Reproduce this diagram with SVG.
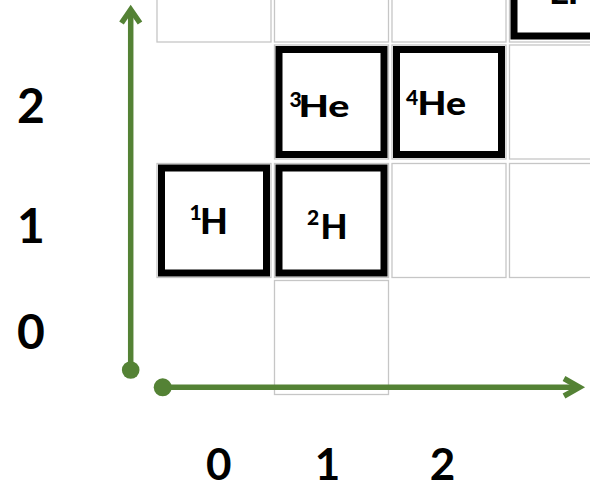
<svg xmlns="http://www.w3.org/2000/svg" width="590" height="490" viewBox="0 0 590 490">
<style>
.cell{fill:#fff;stroke:#c6c6c6;stroke-width:1.3}
.box{fill:#fff;stroke:#000;stroke-width:7}
.t{font-family:Lato,"Liberation Sans",sans-serif;font-weight:900;fill:#000}
.sup{font-size:21px}
.ax{stroke:#548235;stroke-width:5.5;fill:none}
.dot{fill:#548235}
.lbl{font-family:Lato,"Liberation Sans",sans-serif;font-weight:700;fill:#000;text-anchor:middle}
</style>
<rect width="590" height="490" fill="#fff"/>
<g id="grid">
<rect class="cell" x="157" y="-72" width="114" height="114"/>
<rect class="cell" x="274.5" y="-72" width="114" height="114"/>
<rect class="cell" x="392" y="-72" width="114" height="114"/>
<rect class="cell" x="509.5" y="45" width="114" height="114"/>
<rect class="cell" x="392" y="163.5" width="114" height="114"/>
<rect class="cell" x="509.5" y="163.5" width="114" height="114"/>
<rect class="cell" x="274.5" y="280.5" width="114" height="114"/>
</g>
<g id="Li">
<rect class="cell" x="509.5" y="-72" width="114" height="114"/>
<rect class="box" x="514" y="-69" width="105" height="105"/>
<text class="t" x="549" y="4" font-size="31" textLength="29" lengthAdjust="spacingAndGlyphs">Li</text>
</g>
<g id="He3">
<rect class="cell" x="274.5" y="45" width="114" height="114"/>
<rect class="box" x="279" y="49.5" width="105" height="105"/>
<text class="t"><tspan class="sup" x="289.5" y="106.7">3</tspan><tspan x="298.5" y="117.3" font-size="31" textLength="51" lengthAdjust="spacingAndGlyphs">He</tspan></text>
</g>
<g id="He4">
<rect class="cell" x="392" y="45" width="114" height="114"/>
<rect class="box" x="396.5" y="49.5" width="105" height="105"/>
<text class="t"><tspan class="sup" x="406" y="105">4</tspan><tspan x="417.5" y="115" font-size="32" textLength="48.5" lengthAdjust="spacingAndGlyphs">He</tspan></text>
</g>
<g id="H1">
<rect class="cell" x="157" y="163.5" width="114" height="114"/>
<rect class="box" x="161.5" y="168" width="105" height="105"/>
<text class="t"><tspan class="sup" x="189.5" y="220">1</tspan><tspan x="200" y="234.3" font-size="36">H</tspan></text>
</g>
<g id="H2">
<rect class="cell" x="274.5" y="163.5" width="114" height="114"/>
<rect class="box" x="279" y="168" width="105" height="105"/>
<text class="t"><tspan class="sup" x="307" y="225">2</tspan><tspan x="320.5" y="239" font-size="35">H</tspan></text>
</g>
<g id="connectors">
<line class="ax" x1="130.7" y1="370" x2="130.7" y2="11"/>
<polyline class="ax" points="121.5,23 130.7,9.5 140,23"/>
<circle class="dot" cx="130.7" cy="370" r="8.8"/>
<line class="ax" x1="162.7" y1="387.3" x2="578" y2="387.3"/>
<polyline class="ax" points="564,378.5 579.5,387.3 564,396"/>
<circle class="dot" cx="162.7" cy="387.3" r="9"/>
</g>
<g id="labels">
<text class="lbl" x="31" y="123.3" font-size="48">2</text>
<text class="lbl" x="31" y="243.3" font-size="48">1</text>
<text class="lbl" x="31" y="349" font-size="48">0</text>
<text class="lbl" x="218.8" y="479.5" font-size="44">0</text>
<text class="lbl" x="327.5" y="479.5" font-size="44">1</text>
<text class="lbl" x="442.5" y="479.5" font-size="44">2</text>
</g>
</svg>
